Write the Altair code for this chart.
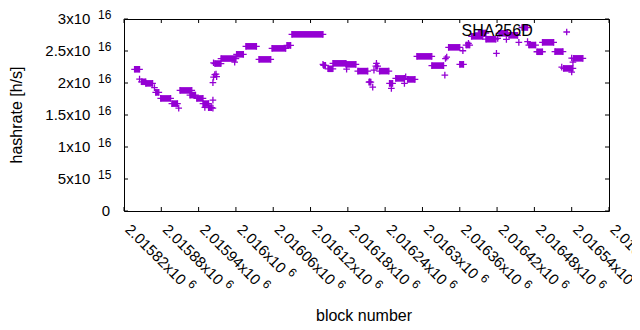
import altair as alt
import pandas as pd

W, H = 485, 192
PURPLE = "#9400d3"
FONT = "Liberation Sans"

# Runs of constant hashrate: first block, last block, hashrate (units of 1e16 h/s)
run_first = [2015837, 2015848, 2015855, 2015871, 2015879, 2015897, 2015910, 2015926,
             2015937, 2015947, 2015956, 2015966, 2015976, 2016001, 2016016, 2016037,
             2016058, 2016082, 2016090, 2016141, 2016148, 2016156, 2016177, 2016196,
             2016214, 2016225, 2016231, 2016247, 2016257, 2016276, 2016291, 2016315,
             2016342, 2016360, 2016370, 2016379, 2016390, 2016402, 2016423, 2016439,
             2016460, 2016471, 2016484, 2016493, 2016513, 2016527, 2016543]
run_last = [2015845, 2015855, 2015866, 2015876, 2015895, 2015906, 2015929, 2015935,
            2015947, 2015956, 2015961, 2015976, 2016000, 2016012, 2016033, 2016056,
            2016080, 2016088, 2016140, 2016144, 2016156, 2016177, 2016193, 2016212,
            2016217, 2016228, 2016246, 2016252, 2016271, 2016288, 2016315, 2016334,
            2016360, 2016366, 2016376, 2016397, 2016402, 2016418, 2016437, 2016453,
            2016469, 2016482, 2016493, 2016511, 2016526, 2016542, 2016558]
run_rate = [2.214, 2.019, 1.994, 1.853, 1.759, 1.678, 1.884, 1.811,
            1.759, 1.678, 1.615, 2.304, 2.382, 2.448, 2.573, 2.369,
            2.541, 2.588, 2.760, 2.275, 2.222, 2.307, 2.291, 2.186,
            2.014, 2.264, 2.186, 1.994, 2.072, 2.056, 2.416, 2.272,
            2.557, 2.291, 2.593, 2.729, 2.781, 2.684, 2.776, 2.745,
            2.867, 2.593, 2.488, 2.635, 2.491, 2.228, 2.385]

# Scattered single blocks
pt_block = [2015845, 2015869, 2015908, 2015950, 2015963, 2015963, 2015963, 2015964,
            2015966, 2015968, 2015969, 2015964, 2015998, 2016140, 2016178, 2016215,
            2016220, 2016222, 2016226, 2016250, 2016271, 2016273, 2016336, 2016337,
            2016339, 2016365, 2016374, 2016419, 2016421, 2016435, 2016455, 2016469,
            2016524, 2016540, 2016542, 2016540]
pt_rate = [2.061, 1.928, 1.607, 1.618, 1.732, 1.607, 2.006, 2.092,
           2.131, 2.139, 2.100, 2.316, 2.327, 2.291, 2.217, 2.019,
           1.936, 2.202, 2.307, 1.915, 1.994, 2.097, 2.124, 2.382,
           2.405, 2.504, 2.620, 2.463, 2.698, 2.682, 2.635, 2.648,
           2.249, 2.171, 2.327, 2.390]

y_tick_vals = [0, 5e15, 1e16, 1.5e16, 2e16, 2.5e16, 3e16]
y_mant = ["0", "5x10", "1x10", "1.5x10", "2x10", "2.5x10", "3x10"]
y_exp = ["", "15", "16", "16", "16", "16", "16"]

x_tick_vals = [2015820, 2015880, 2015940, 2016000, 2016060, 2016120, 2016180,
               2016240, 2016300, 2016360, 2016420, 2016480, 2016540, 2016600]
x_mant = ["2.01582x10", "2.01588x10", "2.01594x10", "2.016x10", "2.01606x10",
          "2.01612x10", "2.01618x10", "2.01624x10", "2.0163x10", "2.01636x10",
          "2.01642x10", "2.01648x10", "2.01654x10", "2.0166x10"]
x_exp = ["6"] * len(x_mant)

series_name = ["SHA256D"]
x_title = ["block number"]
y_title = ["hashrate [h/s]"]

E16 = 1e16
runs = pd.DataFrame({"first": run_first, "last": run_last,
                     "rate": [r * E16 for r in run_rate]})
crosses = pd.concat([
    pd.DataFrame({"block": run_first, "rate": [r * E16 for r in run_rate]}),
    pd.DataFrame({"block": run_last, "rate": [r * E16 for r in run_rate]}),
    pd.DataFrame({"block": pt_block, "rate": [r * E16 for r in pt_rate]}),
], ignore_index=True)

xs = alt.Scale(domain=[2015820, 2016600], nice=False, zero=False)
ys = alt.Scale(domain=[0, 3e16], nice=False)
PLUS = "M-1,0L1,0M0,-1L0,1"
PSIZE = 44
TICK = 4

bars = alt.Chart(runs).mark_rule(color=PURPLE, strokeWidth=6.6).encode(
    x=alt.X("first:Q", scale=xs, axis=None),
    x2="last:Q",
    y=alt.Y("rate:Q", scale=ys, axis=None),
)
pts = alt.Chart(crosses).mark_point(shape=PLUS, size=PSIZE, filled=False,
                                    strokeWidth=1.3, color=PURPLE, opacity=1).encode(
    x=alt.X("block:Q", scale=xs, axis=None),
    y=alt.Y("rate:Q", scale=ys, axis=None),
)

ydf = pd.DataFrame({"v": y_tick_vals, "m": y_mant, "e": y_exp})
xdf = pd.DataFrame({"v": x_tick_vals, "m": x_mant, "e": x_exp})

yt_l = alt.Chart(ydf).mark_rule(color="black").encode(
    y=alt.Y("v:Q", scale=ys, axis=None), x=alt.value(0), x2=alt.value(TICK))
yt_r = alt.Chart(ydf).mark_rule(color="black").encode(
    y=alt.Y("v:Q", scale=ys, axis=None), x=alt.value(W - TICK), x2=alt.value(W))
xt_b = alt.Chart(xdf).mark_rule(color="black").encode(
    x=alt.X("v:Q", scale=xs, axis=None), y=alt.value(H - TICK), y2=alt.value(H))
xt_t = alt.Chart(xdf).mark_rule(color="black").encode(
    x=alt.X("v:Q", scale=xs, axis=None), y=alt.value(0), y2=alt.value(TICK))

LAB = 15
SUP = 12
ylab_m = alt.Chart(ydf).transform_filter("datum.e != ''").mark_text(
    align="right", baseline="middle", fontSize=LAB, font=FONT, color="black").encode(
    y=alt.Y("v:Q", scale=ys, axis=None), x=alt.value(-33.6), text="m:N")
ylab_0 = alt.Chart(ydf).transform_filter("datum.e == ''").mark_text(
    align="right", baseline="middle", fontSize=LAB, font=FONT, color="black").encode(
    y=alt.Y("v:Q", scale=ys, axis=None), x=alt.value(-14), text="m:N")
ylab_e = alt.Chart(ydf).transform_filter("datum.e != ''").mark_text(
    align="right", baseline="middle", fontSize=SUP, font=FONT, color="black", dy=-4.5).encode(
    y=alt.Y("v:Q", scale=ys, axis=None), x=alt.value(-12.6), text="e:N")

EM = {"0": .556, "1": .556, "2": .556, "3": .556, "4": .556, "5": .556,
      "6": .556, "7": .556, "8": .556, "9": .556, ".": .278, "x": .5}


def text_w(s, size):
    return sum(EM[c] for c in s) * size


XDX = 5.5
xlab_m = alt.Chart(xdf).mark_text(
    align="left", baseline="middle", angle=45, fontSize=LAB, font=FONT,
    color="black", dx=XDX).encode(
    x=alt.X("v:Q", scale=xs, axis=None), y=alt.value(H + 12), text="m:N")

xlab_e_layers = []
for n in sorted(set(len(m) for m in x_mant)):
    w = text_w([m for m in x_mant if len(m) == n][0], LAB)
    xlab_e_layers.append(
        alt.Chart(xdf).transform_filter(f"length(datum.m) == {n}").mark_text(
            align="left", baseline="middle", angle=45, fontSize=SUP, font=FONT,
            color="black", dx=XDX + w + 4.5, dy=-5).encode(
            x=alt.X("v:Q", scale=xs, axis=None), y=alt.value(H + 12), text="e:N"))

xtitle = alt.Chart(pd.DataFrame({"t": x_title})).mark_text(
    fontSize=16, font=FONT, color="black", baseline="middle").encode(
    text="t:N", x=alt.value(240), y=alt.value(297))
ytitle = alt.Chart(pd.DataFrame({"t": y_title})).mark_text(
    fontSize=16, font=FONT, color="black", baseline="middle", angle=270).encode(
    text="t:N", x=alt.value(-107), y=alt.value(96))

leg_text = alt.Chart(pd.DataFrame({"t": series_name})).mark_text(
    fontSize=16, font=FONT, color="black", baseline="middle", align="right").encode(
    text="t:N", x=alt.value(408.7), y=alt.value(12))
leg_sym = alt.Chart(pd.DataFrame({"t": series_name})).mark_point(
    shape=PLUS, size=PSIZE, filled=False, strokeWidth=1.3, color=PURPLE, opacity=1).encode(
    x=alt.value(442.7), y=alt.value(13))

chart = alt.layer(
    bars, pts, yt_l, yt_r, xt_b, xt_t, ylab_m, ylab_0, ylab_e, xlab_m,
    *xlab_e_layers, xtitle, ytitle, leg_text, leg_sym,
).properties(
    width=W, height=H,
    autosize=alt.AutoSizeParams(type="none"),
    padding={"left": 116, "top": 11, "right": 23, "bottom": 111},
).configure_view(stroke="black", strokeWidth=1)

chart.save("out.html", embed_options={"renderer": "svg", "actions": False})
